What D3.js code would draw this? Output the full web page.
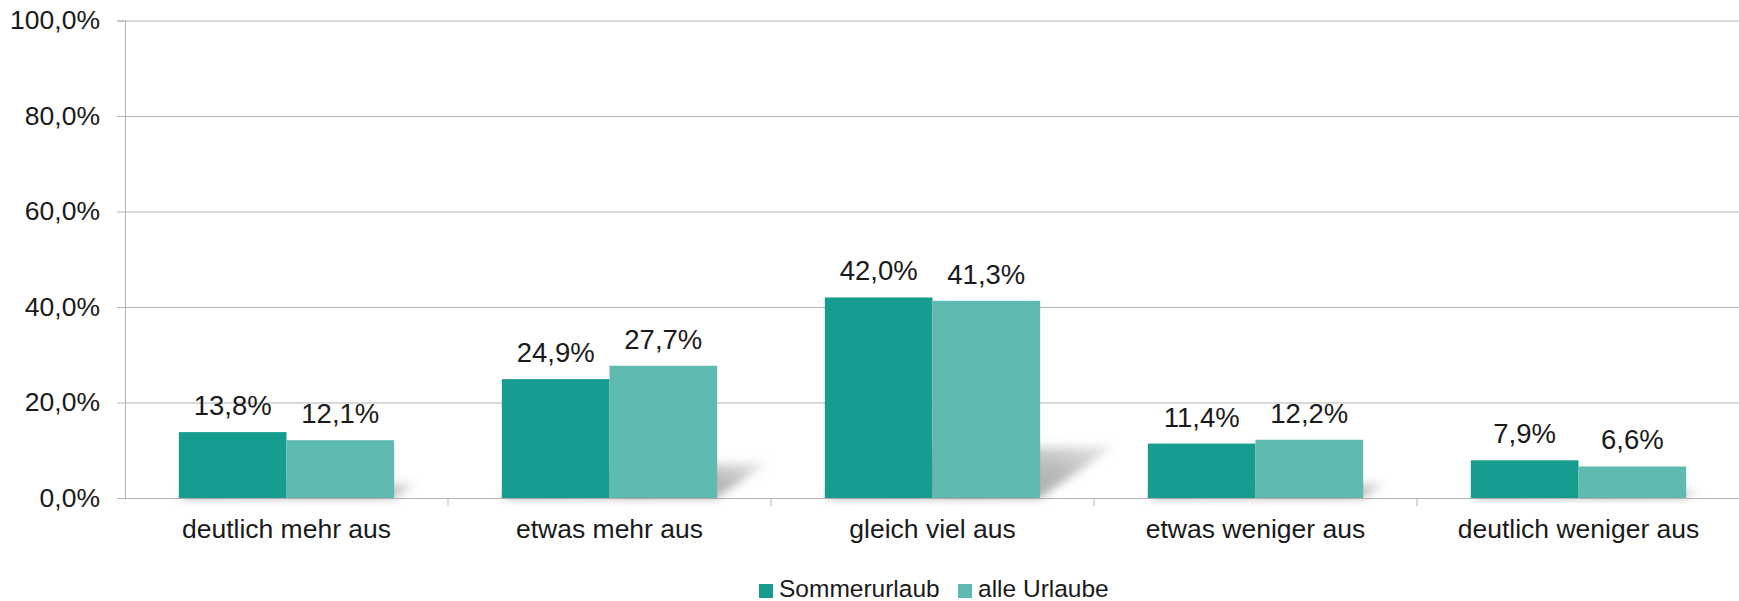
<!DOCTYPE html>
<html>
<head>
<meta charset="utf-8">
<script src="https://cdn.jsdelivr.net/npm/d3@7"></script>
<style>
    body { margin: 0; background: #fff; }
    svg { display: block; font-family: "Liberation Sans", Arial, sans-serif; }
</style>
</head>
<body>
<div id="chart"></div>
<script>
const categories = ["deutlich mehr aus", "etwas mehr aus", "gleich viel aus", "etwas weniger aus", "deutlich weniger aus"]
const seriesNames = ["Sommerurlaub", "alle Urlaube"]
const sommerurlaub = [13.8, 24.9, 42.0, 11.4, 7.9]
const alleUrlaube = [12.1, 27.7, 41.3, 12.2, 6.6]
const yTicks = [0, 20, 40, 60, 80, 100]
const colors = ["#179d8f", "#5fbab0"]

const width = 1739, height = 601
const margin = { top: 20.5, right: 0, bottom: 103, left: 125 }
const fmt = v => d3.format(".1f")(v).replace(".", ",") + "%"

const svg = d3.select("#chart").append("svg")
    .attr("width", width)
    .attr("height", height)

const defs = svg.append("defs")
// blur for the floor shadows
defs.append("filter")
    .attr("id", "blur")
    .attr("x", "-50%").attr("y", "-50%").attr("width", "200%").attr("height", "200%")
    .append("feGaussianBlur").attr("stdDeviation", 5)
const grad = defs.append("linearGradient")
    .attr("id", "shade")
    .attr("x1", "0").attr("y1", "1").attr("x2", "1").attr("y2", "0")
grad.append("stop").attr("offset", "0").attr("stop-color", "#8c8c8c")
grad.append("stop").attr("offset", "0.6").attr("stop-color", "#a8a8a8")
grad.append("stop").attr("offset", "1").attr("stop-color", "#e2e2e2")

const x = d3.scaleBand()
    .domain(categories)
    .range([margin.left, width + 1])
    .paddingInner(0)
    .paddingOuter(0)

const inner = d3.scaleBand()
    .domain(seriesNames)
    .range([0, x.bandwidth()])
    .paddingOuter(0.5)
    .paddingInner(0)

const y = d3.scaleLinear()
    .domain([0, 100])
    .range([height - margin.bottom, margin.top])

// gridlines + y ticks
const yAxis = svg.append("g")
    .attr("transform", `translate(${margin.left},0)`)
    .call(d3.axisLeft(y).tickValues(yTicks).tickFormat(v => fmt(v)).tickSize(8).tickPadding(17))
yAxis.select(".domain").attr("stroke", "#b3b3b3")
yAxis.selectAll(".tick line").attr("stroke", "#b3b3b3")
yAxis.selectAll(".tick text").attr("font-size", 26.5).attr("fill", "#1a1a1a")
    .attr("font-family", "Liberation Sans, Arial, sans-serif")
yAxis.selectAll(".tick").append("line")
    .attr("x1", 0).attr("x2", width - margin.left)
    .attr("stroke", "#b3b3b3")

const rows = categories.map((c, i) => ({ cat: c, values: [sommerurlaub[i], alleUrlaube[i]] }))

const groups = svg.append("g").selectAll("g")
    .data(rows)
    .join("g")
    .attr("transform", d => `translate(${x(d.cat)},0)`)

// perspective shadow cast on the floor behind each bar
const base = y(0)
groups.selectAll("path.shadow")
    .data(d => d.values.map((v, j) => ({ name: seriesNames[j], v })))
    .join("path")
    .attr("class", "shadow")
    .attr("fill", "url(#shade)")
    .attr("opacity", 0.8)
    .attr("filter", "url(#blur)")
    .attr("d", d => {
        const x0 = inner(d.name), x1 = x0 + inner.bandwidth()
        const h = base - y(d.v)
        const dx = h * 0.37, dy = h * 0.26
        return `M${x0},${base}L${x1},${base}L${x1 + dx},${base - dy}L${x0 + dx},${base - dy}Z`
    })

groups.selectAll("rect")
    .data(d => d.values.map((v, j) => ({ name: seriesNames[j], v, j })))
    .join("rect")
    .attr("x", d => inner(d.name))
    .attr("y", d => y(d.v))
    .attr("width", inner.bandwidth())
    .attr("height", d => base - y(d.v))
    .attr("fill", d => colors[d.j])

groups.selectAll("text")
    .data(d => d.values.map((v, j) => ({ name: seriesNames[j], v })))
    .join("text")
    .attr("x", d => inner(d.name) + inner.bandwidth() / 2)
    .attr("y", d => y(d.v) - 17)
    .attr("text-anchor", "middle")
    .attr("font-size", 27.5)
    .attr("fill", "#1a1a1a")
    .text(d => fmt(d.v))

// category axis
const xAxis = svg.append("g")
    .attr("transform", `translate(0,${base})`)
    .call(d3.axisBottom(x).tickSize(0).tickSizeOuter(0))
xAxis.select(".domain").remove()
xAxis.selectAll(".tick text")
    .attr("font-size", 26.5)
    .attr("fill", "#1a1a1a")
    .attr("font-family", "Liberation Sans, Arial, sans-serif")
    .attr("dy", 0).attr("y", 40)

svg.append("g").selectAll("line")
    .data(categories.slice(1))
    .join("line")
    .attr("x1", d => x(d)).attr("x2", d => x(d))
    .attr("y1", base).attr("y2", base + 8)
    .attr("stroke", "#b3b3b3")

// legend
const legend = svg.append("g").attr("transform", "translate(759,597)")
const legendX = [0, 199]
const items = legend.selectAll("g")
    .data(seriesNames)
    .join("g")
    .attr("transform", (d, i) => `translate(${legendX[i]},0)`)
items.append("rect")
    .attr("x", 0).attr("y", -13)
    .attr("width", 14).attr("height", 14)
    .attr("fill", (d, i) => colors[i])
items.append("text")
    .attr("x", 20).attr("y", 0)
    .attr("font-size", 24.5)
    .attr("fill", "#1a1a1a")
    .text(d => d)
</script>
</body>
</html>
